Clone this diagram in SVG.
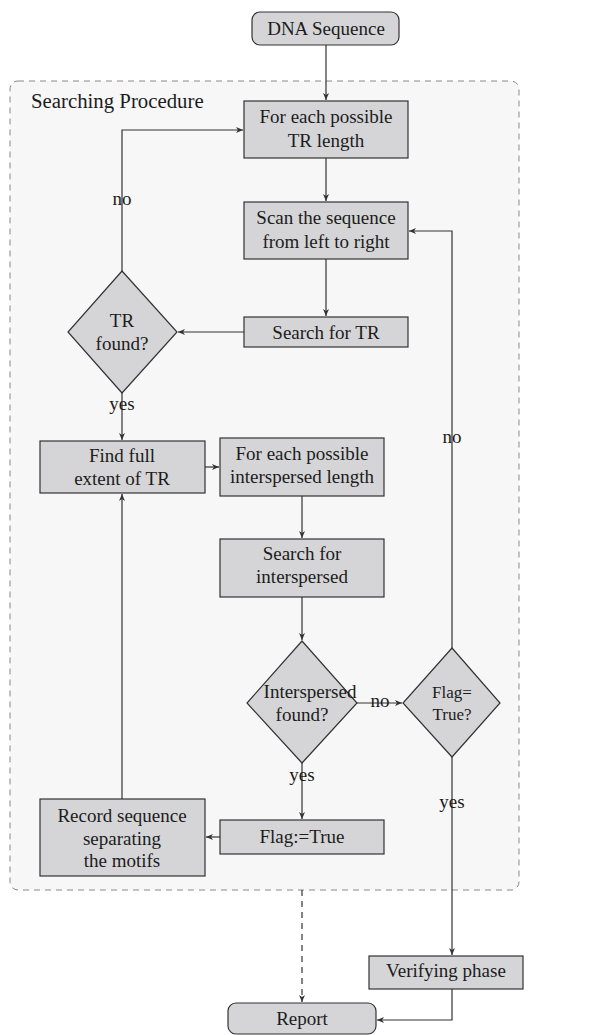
<svg xmlns="http://www.w3.org/2000/svg" width="589" height="1035" viewBox="0 0 589 1035" font-family="'Liberation Serif', 'Times New Roman', serif">
<style>
.n{fill:#d5d5d7;stroke:#333;stroke-width:1.2}
text{font-family:'Liberation Serif','Times New Roman',serif;font-size:19px;fill:#1c1c1c;text-anchor:middle}
.s{font-size:17px}
.c{fill:none;stroke:#333;stroke-width:1.2}
.d{stroke-dasharray:6,5}
</style>
<defs>
<marker id="a" markerWidth="8" markerHeight="6" refX="7" refY="3" orient="auto" markerUnits="userSpaceOnUse">
<path d="M0,0 L7,3 L0,6 L2,3 z" fill="#333"/>
</marker>
</defs>
<rect width="589" height="1035" fill="#fff"/>
<g id="container">
<rect x="10" y="81" width="509" height="809" rx="8" fill="#f7f7f7" stroke="#888" stroke-width="1" stroke-dasharray="6,5"/>
<text x="31" y="108" style="text-anchor:start;font-size:20.8px">Searching Procedure</text>
</g>
<g id="connectors">
<path class="c" d="M326,45 V100" marker-end="url(#a)"/>
<path class="c" d="M326,158 V201" marker-end="url(#a)"/>
<path class="c" d="M326,259 V316" marker-end="url(#a)"/>
<path class="c" d="M244,332 H178" marker-end="url(#a)"/>
<path class="c" d="M122,271 V130 H243" marker-end="url(#a)"/>
<path class="c" d="M122,393 V440" marker-end="url(#a)"/>
<path class="c" d="M205,467 H219" marker-end="url(#a)"/>
<path class="c" d="M302,496 V538" marker-end="url(#a)"/>
<path class="c" d="M302,597 V640" marker-end="url(#a)"/>
<path class="c" d="M357,703 H402" marker-end="url(#a)"/>
<path class="c" d="M452,648 V231 H409" marker-end="url(#a)"/>
<path class="c" d="M302,763 V819" marker-end="url(#a)"/>
<path class="c" d="M220,837 H206" marker-end="url(#a)"/>
<path class="c" d="M122,799 V494" marker-end="url(#a)"/>
<path class="c" d="M452,757 V955" marker-end="url(#a)"/>
<path class="c d" d="M302,890 V1002" marker-end="url(#a)"/>
<path class="c" d="M452,989 V1020 H377" marker-end="url(#a)"/>
<text x="122" y="205">no</text>
<text x="122" y="410">yes</text>
<text x="380" y="707">no</text>
<text x="302" y="781">yes</text>
<text x="452" y="443">no</text>
<text x="452" y="808">yes</text>
</g>
<g id="dna"><rect class="n" x="252" y="12" width="147" height="33" rx="8"/><text x="326" y="35">DNA Sequence</text></g>
<g id="foreach_tr"><rect class="n" x="244" y="101" width="164" height="57"/><text x="326" y="123">For each possible</text><text x="326" y="147">TR length</text></g>
<g id="scan"><rect class="n" x="244" y="202" width="164" height="57"/><text x="326" y="224">Scan the sequence</text><text x="326" y="248">from left to right</text></g>
<g id="search_tr"><rect class="n" x="244" y="317" width="164" height="30"/><text x="326" y="339">Search for TR</text></g>
<g id="tr_found"><polygon class="n" points="122,271 177,332 122,393 68,332"/><text x="122" y="327">TR</text><text x="122" y="350">found?</text></g>
<g id="full_extent"><rect class="n" x="40" y="441" width="165" height="52"/><text x="122" y="462">Find full</text><text x="122" y="485">extent of TR</text></g>
<g id="foreach_int"><rect class="n" x="220" y="438" width="164" height="58"/><text x="302" y="460">For each possible</text><text x="302" y="483">interspersed length</text></g>
<g id="search_int"><rect class="n" x="220" y="539" width="164" height="58"/><text x="302" y="560">Search for</text><text x="302" y="583">interspersed</text></g>
<g id="int_found"><polygon class="n" points="302,641 357,703 302,763 247,703"/><text x="310" y="698">Interspersed</text><text x="302" y="721">found?</text></g>
<g id="flag_true_q"><polygon class="n" points="452,648 500,703 452,757 403,703"/><text class="s" x="452" y="698">Flag=</text><text class="s" x="452" y="720">True?</text></g>
<g id="flag_set"><rect class="n" x="220" y="820" width="164" height="34"/><text x="302" y="843">Flag:=True</text></g>
<g id="record"><rect class="n" x="40" y="799" width="165" height="77"/><text x="122" y="822">Record sequence</text><text x="122" y="845">separating</text><text x="122" y="867">the motifs</text></g>
<g id="verify"><rect class="n" x="369" y="956" width="154" height="33"/><text x="446" y="977">Verifying phase</text></g>
<g id="report"><rect class="n" x="228" y="1003" width="148" height="31" rx="8"/><text x="302" y="1025">Report</text></g>
</svg>
